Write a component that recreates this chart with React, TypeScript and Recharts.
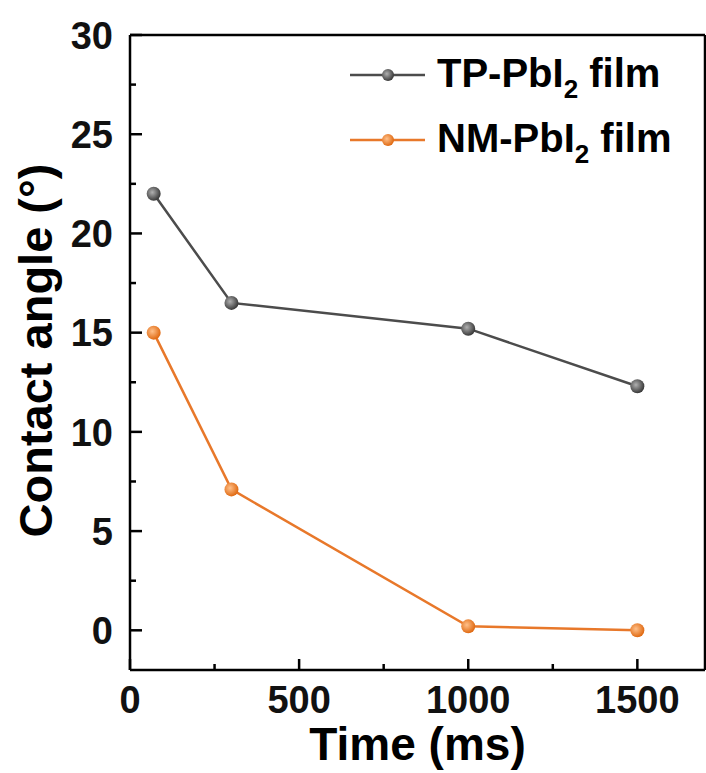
import { LineChart, Line, XAxis, YAxis, ReferenceLine, Legend } from "recharts";

const TIME_MS = [70, 300, 1000, 1500];
const TP_ANGLE = [22, 16.5, 15.2, 12.3];
const NM_ANGLE = [15, 7.1, 0.2, 0];

const SERIES_NAMES = ["TP-PbI2 film", "NM-PbI2 film"];
const SERIES_COLORS = ["#4c4c4c", "#e8782a"];

const X_MAJOR = [0, 500, 1000, 1500];
const X_MINOR = [250, 750, 1250];
const Y_MAJOR = [0, 5, 10, 15, 20, 25, 30];
const Y_MINOR = [2.5, 7.5, 12.5, 17.5, 22.5, 27.5];

const FONT = "'Liberation Sans', Arial, sans-serif";

const data = TIME_MS.map((t, i) => ({ time: t, tp: TP_ANGLE[i], nm: NM_ANGLE[i] }));

// ball-like marker with a light centre, as in the original plot
const BALL = {
  "#4c4c4c": ["#b0b0b0", "#3a3a3a"],
  "#e8782a": ["#ffc08a", "#e06a12"],
};

function Ball({ cx, cy, color, id, r = 7 }: { cx: number; cy: number; color: string; id: string; r?: number }) {
  const [inner, outer] = BALL[color as keyof typeof BALL];
  return (
    <g>
      <defs>
        <radialGradient id={id} cx="40%" cy="40%" r="60%">
          <stop offset="0%" stopColor={inner} />
          <stop offset="100%" stopColor={outer} />
        </radialGradient>
      </defs>
      <circle cx={cx} cy={cy} r={r} fill={`url(#${id})`} />
    </g>
  );
}

function XTick({ x, y, payload }: any) {
  const major = X_MAJOR.includes(payload.value);
  return (
    <g>
      <line x1={x} x2={x} y1={y} y2={y - (major ? 11 : 6)} stroke="#000" strokeWidth={2.5} />
      {major && (
        <text x={x} y={y + 43} textAnchor="middle" fontFamily={FONT} fontWeight="bold" fontSize={38} fill="#111">
          {payload.value}
        </text>
      )}
    </g>
  );
}

function YTick({ x, y, payload }: any) {
  const major = Y_MAJOR.includes(payload.value);
  return (
    <g>
      <line x1={x} x2={x + (major ? 12 : 6)} y1={y} y2={y} stroke="#000" strokeWidth={2.5} />
      {major && (
        <text x={x - 17} y={y} dy="0.36em" textAnchor="end" fontFamily={FONT} fontWeight="bold" fontSize={38} fill="#111">
          {payload.value}
        </text>
      )}
    </g>
  );
}

function SubName({ name, x, y }: { name: string; x: number; y: number }) {
  const [head, tail] = name.split("PbI2");
  return (
    <text x={x} y={y} fontFamily={FONT} fontWeight="bold" fontSize={40} fill="#000">
      {head}PbI
      <tspan dy={11} fontSize={26}>2</tspan>
      <tspan dy={-11}>{tail}</tspan>
    </text>
  );
}

function LegendBox() {
  return (
    <svg width={360} height={130}>
      {SERIES_NAMES.map((name, i) => {
        const ly = 35 + 65 * i;
        return (
          <g key={name}>
            <line x1={10} x2={85} y1={ly} y2={ly} stroke={SERIES_COLORS[i]} strokeWidth={2.5} />
            <Ball cx={48} cy={ly} r={6} color={SERIES_COLORS[i]} id={`leg-${i}`} />
            <SubName name={name} x={97} y={ly + 12} />
          </g>
        );
      })}
    </svg>
  );
}

export default function App() {
  return (
    <div style={{ position: "absolute", left: 0, top: 0, background: "#fff" }}>
      <LineChart width={706} height={773} data={data} margin={{ top: 35, right: 1, left: 0, bottom: 0 }}>
        <XAxis
          type="number"
          dataKey="time"
          domain={[0, 1700]}
          ticks={[...X_MAJOR, ...X_MINOR].sort((a, b) => a - b)}
          interval={0}
          height={103}
          tickSize={0}
          tickMargin={0}
          tick={<XTick />}
          axisLine={{ stroke: "#000", strokeWidth: 2.5 }}
          label={{
            content: ({ viewBox }: any) => (
              <text
                x={viewBox.x + viewBox.width / 2}
                y={760}
                textAnchor="middle"
                fontFamily={FONT}
                fontWeight="bold"
                fontSize={46}
                fill="#000"
              >
                Time (ms)
              </text>
            ),
          }}
        />
        <YAxis
          type="number"
          domain={[-2, 30]}
          ticks={[...Y_MAJOR, ...Y_MINOR].sort((a, b) => a - b)}
          interval={0}
          width={130}
          tickSize={0}
          tickMargin={0}
          tick={<YTick />}
          axisLine={{ stroke: "#000", strokeWidth: 2.5 }}
          label={{
            content: ({ viewBox }: any) => {
              const cy = viewBox.y + viewBox.height / 2 - 2;
              return (
                <text
                  x={52}
                  y={cy}
                  transform={`rotate(-90 52 ${cy})`}
                  textAnchor="middle"
                  fontFamily={FONT}
                  fontWeight="bold"
                  fontSize={47}
                  fill="#000"
                >
                  Contact angle (°)
                </text>
              );
            },
          }}
        />
        <ReferenceLine y={30} stroke="#000" strokeWidth={2.5} />
        <ReferenceLine x={1700} stroke="#000" strokeWidth={2.5} />
        <Legend
          layout="vertical"
          align="center"
          verticalAlign="middle"
          content={() => <LegendBox />}
          wrapperStyle={{ left: 340, top: 40, width: 360, height: 130 }}
        />
        <Line
          dataKey="tp"
          name={SERIES_NAMES[0]}
          stroke={SERIES_COLORS[0]}
          strokeWidth={2.5}
          isAnimationActive={false}
          dot={(p: any) => <Ball key={`tp-${p.index}`} cx={p.cx} cy={p.cy} color={SERIES_COLORS[0]} id={`tp-${p.index}`} />}
          activeDot={false}
        />
        <Line
          dataKey="nm"
          name={SERIES_NAMES[1]}
          stroke={SERIES_COLORS[1]}
          strokeWidth={2.5}
          isAnimationActive={false}
          dot={(p: any) => <Ball key={`nm-${p.index}`} cx={p.cx} cy={p.cy} color={SERIES_COLORS[1]} id={`nm-${p.index}`} />}
          activeDot={false}
        />
      </LineChart>
    </div>
  );
}
